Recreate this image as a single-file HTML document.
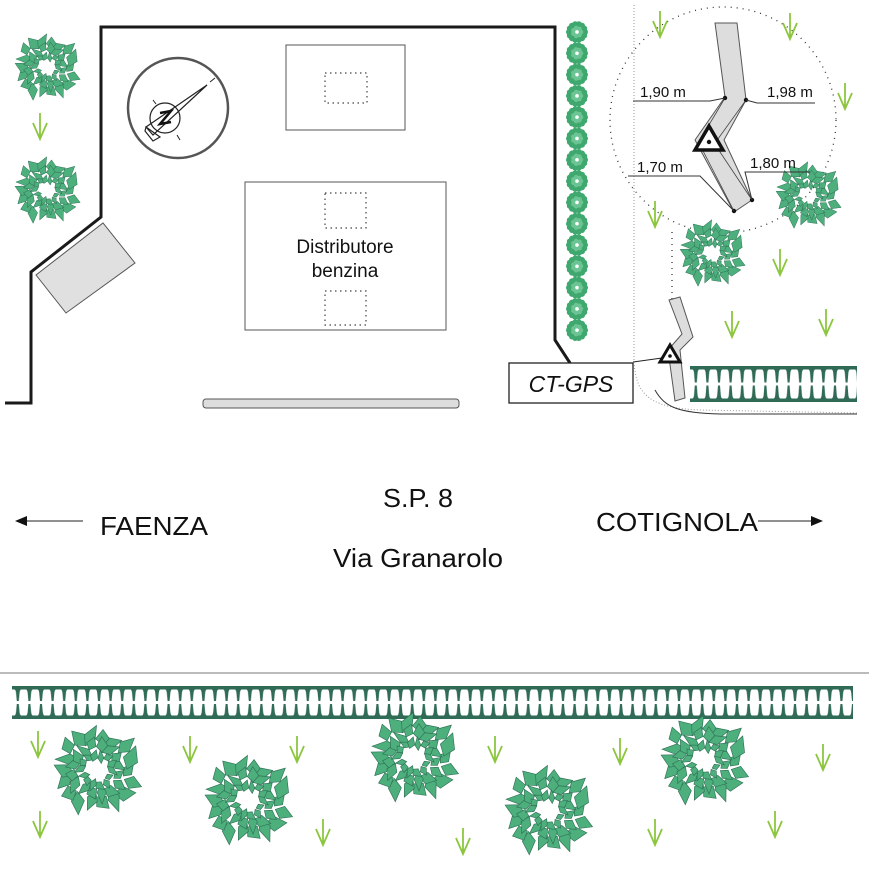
<!DOCTYPE html>
<html><head><meta charset="utf-8"><style>
html,body{margin:0;padding:0;background:#fff}
svg{display:block}
text{font-family:"Liberation Sans",sans-serif;fill:#111}
</style></head><body>
<svg id="s" width="869" height="878" viewBox="0 0 869 878" xmlns="http://www.w3.org/2000/svg">
<defs>
<pattern id="hedge" x="12" y="686" width="11.6" height="33" patternUnits="userSpaceOnUse">
<path d="M0,0H11.6V3.5H9Q8,4 7.6,6.5L6.8,15H4.8L4,6.5Q3.6,4 2.6,3.5H0Z M0,33H11.6V29.5H9Q8,29 7.6,26.5L6.8,18H4.8L4,26.5Q3.6,29 2.6,29.5H0Z" fill="#2f6b55"/>
</pattern>
<pattern id="hedge2" x="690" y="366" width="11.6" height="36" patternUnits="userSpaceOnUse">
<path d="M0,0H11.6V3.5H9Q8,4 7.6,6.5L6.8,16.5H4.8L4,6.5Q3.6,4 2.6,3.5H0Z M0,36H11.6V32.5H9Q8,32 7.6,29.5L6.8,19.5H4.8L4,29.5Q3.6,32 2.6,32.5H0Z" fill="#2f6b55"/>
</pattern>
<g id="grass"><path d="M0,-14L0,12M-7,-4L0,12L7,-4" stroke="#8cc63f" stroke-width="1.8" fill="none"/></g>
<g id="bush"></g>
<g id="sbush"></g>
</defs>

<polyline points="5,403 31,403 31,272 101,217 101,27 555,27 555,340 570,363" fill="none" stroke="#1a1a1a" stroke-width="3"/>
<polygon points="36,275 103,223 135,263 66,313" fill="#e0e0e0" stroke="#555" stroke-width="1"/>

<circle cx="178" cy="108" r="50" fill="none" stroke="#555" stroke-width="2.5"/>
<circle cx="165" cy="118" r="15" fill="none" stroke="#222" stroke-width="1.2"/>
<path d="M146,127L207,85L153,135Z" fill="none" stroke="#222" stroke-width="1.2"/>
<path d="M146,127L160,137L153,141L145,131Z" fill="none" stroke="#222" stroke-width="1.2"/>
<path d="M210,82L215,78M153,100L156,104M177,135L180,140" stroke="#222" stroke-width="1"/>
<path d="M160,113L171,111L160,124L171,122" fill="none" stroke="#111" stroke-width="2.5"/>

<rect x="286" y="45" width="119" height="85" fill="none" stroke="#555" stroke-width="1"/>
<rect x="325" y="73" width="42" height="30" fill="none" stroke="#444" stroke-width="1.2" stroke-dasharray="1.5 3.5"/>
<rect x="245" y="182" width="201" height="148" fill="none" stroke="#555" stroke-width="1"/>
<rect x="325" y="193" width="41" height="35" fill="none" stroke="#444" stroke-width="1.2" stroke-dasharray="1.5 3.5"/>
<rect x="325" y="291" width="41" height="34" fill="none" stroke="#444" stroke-width="1.2" stroke-dasharray="1.5 3.5"/>
<text x="345" y="253" font-size="19" text-anchor="middle">Distributore</text>
<text x="345" y="277" font-size="19" text-anchor="middle">benzina</text>
<rect x="203" y="399" width="256" height="9" rx="3" fill="#ddd" stroke="#555" stroke-width="1"/>

<rect x="509" y="363" width="124" height="40" fill="#fff" stroke="#222" stroke-width="1.3"/>
<text x="571" y="392" font-size="23" font-style="italic" text-anchor="middle">CT-GPS</text>
<line x1="633" y1="362" x2="662" y2="358" stroke="#222" stroke-width="1"/>

<line x1="634" y1="5" x2="634" y2="360" stroke="#999" stroke-width="1" stroke-dasharray="1 2"/>
<path d="M634,362 C636,395 650,408 700,410 L857,413" fill="none" stroke="#999" stroke-width="1" stroke-dasharray="1 2"/>
<path d="M655,390 C665,408 680,413 720,414 L857,414" fill="none" stroke="#333" stroke-width="1"/>
<circle cx="723" cy="120" r="113" fill="none" stroke="#333" stroke-width="1.3" stroke-dasharray="1 5"/>
<line x1="672" y1="232" x2="672" y2="300" stroke="#333" stroke-width="1.3" stroke-dasharray="1 5"/>

<rect x="12" y="686" width="841" height="33" fill="url(#hedge)"/>
<rect x="690" y="366" width="167" height="36" fill="url(#hedge2)"/>
<line x1="0" y1="673" x2="869" y2="673" stroke="#777" stroke-width="1"/>

<g id="grasses"></g>
<g id="bushes"></g>

<polygon points="715,23 737,23 746,100 724,140 752,200 734,212 695,140 725,97" fill="#ddd" stroke="#555" stroke-width="1"/>
<path d="M725,98L700,140M746,100L710,150M700,145L734,211M712,140L752,200" stroke="#444" stroke-width="0.8" fill="none"/>
<g fill="#111"><circle cx="725" cy="98" r="2.2"/><circle cx="746" cy="100" r="2.2"/><circle cx="734" cy="211" r="2.2"/><circle cx="752" cy="200" r="2.2"/></g>
<polygon points="709,126 695,150 723,150" fill="#fff" stroke="#111" stroke-width="3.5" stroke-linejoin="miter"/>
<circle cx="709" cy="142" r="2.2" fill="#111"/>
<path d="M633,101H710L725,98 M815,103H757L746,100 M628,176H700L734,211 M810,172H745L752,200" fill="none" stroke="#333" stroke-width="1"/>
<text x="640" y="97" font-size="15">1,90 m</text>
<text x="767" y="97" font-size="15">1,98 m</text>
<text x="637" y="172" font-size="15">1,70 m</text>
<text x="750" y="168" font-size="15">1,80 m</text>

<polygon points="669,300 680,297 693,337 680,350 685,398 675,401 668,350 682,334" fill="#ddd" stroke="#555" stroke-width="1"/>
<polygon points="670,345 660,362 680,362" fill="#fff" stroke="#111" stroke-width="3"/>
<circle cx="670" cy="356" r="1.8" fill="#111"/>

<text x="383" y="507" font-size="26" textLength="70" lengthAdjust="spacingAndGlyphs">S.P. 8</text>
<text x="333" y="567" font-size="26" textLength="170" lengthAdjust="spacingAndGlyphs">Via Granarolo</text>
<text x="100" y="535" font-size="26" textLength="108" lengthAdjust="spacingAndGlyphs">FAENZA</text>
<text x="596" y="531" font-size="26" textLength="162" lengthAdjust="spacingAndGlyphs">COTIGNOLA</text>
<line x1="26" y1="521" x2="83" y2="521" stroke="#222" stroke-width="1"/>
<polygon points="15,521 27,516 27,526" fill="#111"/>
<line x1="758" y1="521" x2="812" y2="521" stroke="#222" stroke-width="1"/>
<polygon points="823,521 811,516 811,526" fill="#111"/>
</svg>
<script>
(function(){
var NS="http://www.w3.org/2000/svg";
function leafRing(g,n,r,len,w,off){
  for(var i=0;i<n;i++){
    var a=(i/n)*Math.PI*2+off;
    var rr=r*(0.88+0.24*((i*29)%5)/5);
    var cx=Math.cos(a)*rr, cy=Math.sin(a)*rr;
    var p=document.createElementNS(NS,"path");
    var L=len*(0.75+0.5*((i*37)%7)/7), W=w*(0.8+0.4*((i*17)%5)/5);
    p.setAttribute("d","M"+(-L/2)+",0L"+(-L/10)+","+(-W/2)+"L"+(L/2)+",0L"+(-L/10)+","+(W/2)+"Z");
    p.setAttribute("transform","translate("+cx.toFixed(1)+","+cy.toFixed(1)+") rotate("+(a*180/Math.PI+((i*53)%100-50)).toFixed(1)+")");
    g.appendChild(p);
  }
}
var g=document.getElementById("bush");
g.setAttribute("fill","#4daf7c");g.setAttribute("stroke","#2e7056");g.setAttribute("stroke-width","0.6");
leafRing(g,18,34,20,13,0);
leafRing(g,16,24,16,10,0.2);
leafRing(g,14,15,11,7,0.5);
var sb=document.getElementById("sbush");
sb.setAttribute("fill","#3fa86e");
for(var i=0;i<14;i++){var a=i/14*Math.PI*2;var c=document.createElementNS(NS,"circle");c.setAttribute("cx",(Math.cos(a)*8).toFixed(1));c.setAttribute("cy",(Math.sin(a)*8).toFixed(1));c.setAttribute("r","3");sb.appendChild(c);}
for(var i=0;i<7;i++){var a=i/7*Math.PI*2;var c=document.createElementNS(NS,"circle");c.setAttribute("cx",(Math.cos(a)*4).toFixed(1));c.setAttribute("cy",(Math.sin(a)*4).toFixed(1));c.setAttribute("r","2.3");c.setAttribute("fill","#6cc493");sb.appendChild(c);}
function use(parent,href,x,y,sc){var u=document.createElementNS(NS,"use");u.setAttribute("href","#"+href);u.setAttribute("transform","translate("+x+","+y+") scale("+sc+")");parent.appendChild(u);}
var B=document.getElementById("bushes");
[[97,770,1.05],[248,800,1.05],[414,757,1.05],[548,810,1.05],[704,760,1.05],[47,67,0.78],[47,190,0.78],[712,253,0.78],[808,195,0.78]].forEach(function(b){use(B,"bush",b[0],b[1],b[2]);});
for(var k=0;k<15;k++){use(B,"sbush",577,32+k*21.3,1);}
var G=document.getElementById("grasses");
[[38,745],[40,825],[190,750],[323,833],[297,750],[463,842],[495,750],[620,752],[655,833],[775,825],[823,758],[845,97],[780,263],[732,325],[826,323],[660,25],[790,27],[655,215],[40,127]].forEach(function(p){use(G,"grass",p[0],p[1],1);});
})();
</script>
</body></html>
